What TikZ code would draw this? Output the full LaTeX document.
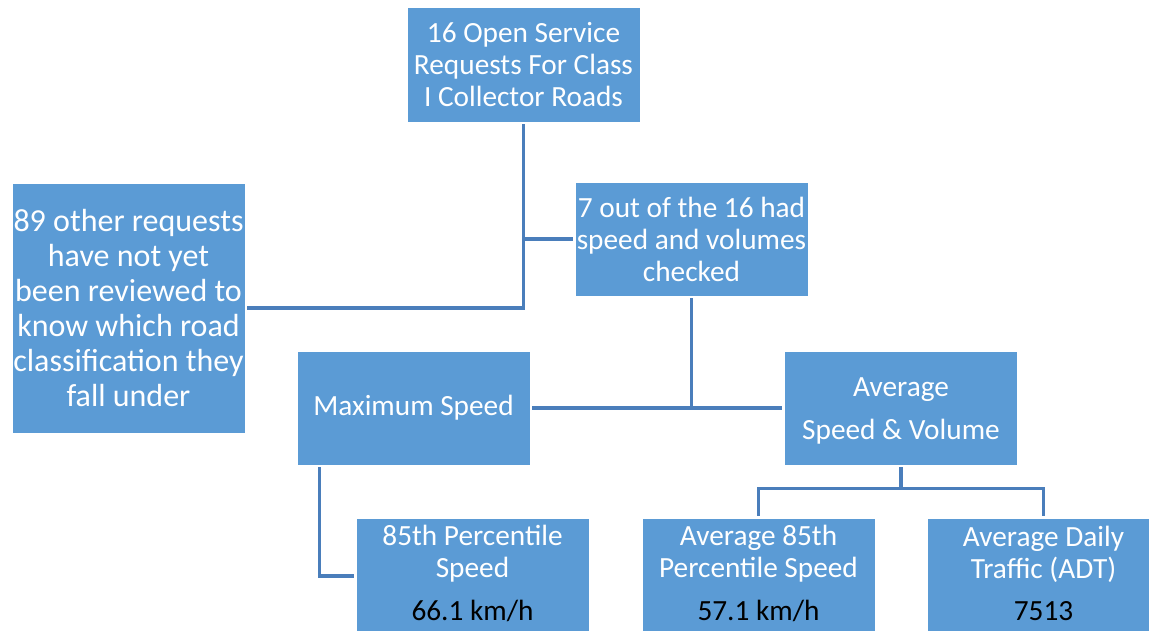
\documentclass[tikz,border=0pt]{standalone}
\usepackage{fontspec}
\setmainfont{Carlito}
\definecolor{boxblue}{HTML}{5B9BD5}
\definecolor{linkblue}{HTML}{4A7EBB}
\begin{document}
\begin{tikzpicture}[x=1pt,y=-1pt,
  box/.style={rectangle,fill=boxblue,draw=white,line width=0.8pt,
    minimum width=233pt,inner sep=0pt,text=white,align=center,
    font=\fontsize{29.3}{32}\selectfont},
  label/.style={inner sep=0pt,text=white,align=center,
    font=\fontsize{29.3}{32}\selectfont},
  value/.style={inner sep=0pt,text=black,
    font=\fontsize{29.3}{32}\selectfont},
  link/.style={draw=linkblue,line width=3.4pt,shorten >=2pt,shorten <=2pt}]
\useasboundingbox (0,0) rectangle (1149,630);
\clip (0,0) rectangle (1149,630);

% boxes
\node[box,minimum height=115pt] (top) at (523.5,64.5)
  {16 Open Service\\Requests For Class\\I Collector Roads};
\node[box,minimum height=250pt,font=\fontsize{32}{35}\selectfont] (other) at (128.5,308)
  {89 other requests\\have not yet\\been reviewed to\\know which road\\classification they\\fall under};
\node[box,minimum height=114pt] (seven) at (691.5,239)
  {7 out of the 16 had\\speed and volumes\\checked};
\node[box,minimum height=114pt] (max) at (413.5,408) {Maximum Speed};
\node[box,minimum height=114pt] (avg) at (901,408) {};
\node[label] (avgt) at (901,411) {Average\\[11pt]Speed \& Volume};
\node[box,minimum height=116pt] (p85) at (472.5,576) {};
\node[box,minimum height=116pt] (a85) at (758.5,576) {};
\node[box,minimum height=116pt] (adt) at (1043.5,576) {};

% texts of the lower boxes
\node[label] (p85t) at (472.5,554) {85th Percentile\\Speed};
\node[value] (p85v) at (472.5,611) {66.1 km/h};
\node[label] (a85t) at (758.5,554) {Average 85th\\Percentile Speed};
\node[value] (a85v) at (758.5,611) {57.1 km/h};
\node[label] (adtt) at (1043.5,554) {Average Daily\\Traffic (ADT)};
\node[value] (adtv) at (1043.5,611) {7513};

% connectors
\draw[link] (top.south) -- (top.south |- other.east) -- (other.east);
\draw[link,shorten <=0pt] (top.south |- seven.west) -- (seven.west);
\draw[link] (seven.south) -- (seven.south |- max.east);
\draw[link] (max.east) -- (avg.west);
\draw[link] ([xshift=23pt]max.south west) |- (p85.west);
\coordinate (fork) at ([yshift=-23pt]avg.south);
\draw[link,shorten >=0pt] (avg.south) -- (fork);
\draw[link,shorten <=0pt] (fork) -| (a85.north);
\draw[link,shorten <=0pt] (fork) -| (adt.north);
\end{tikzpicture}
\end{document}
